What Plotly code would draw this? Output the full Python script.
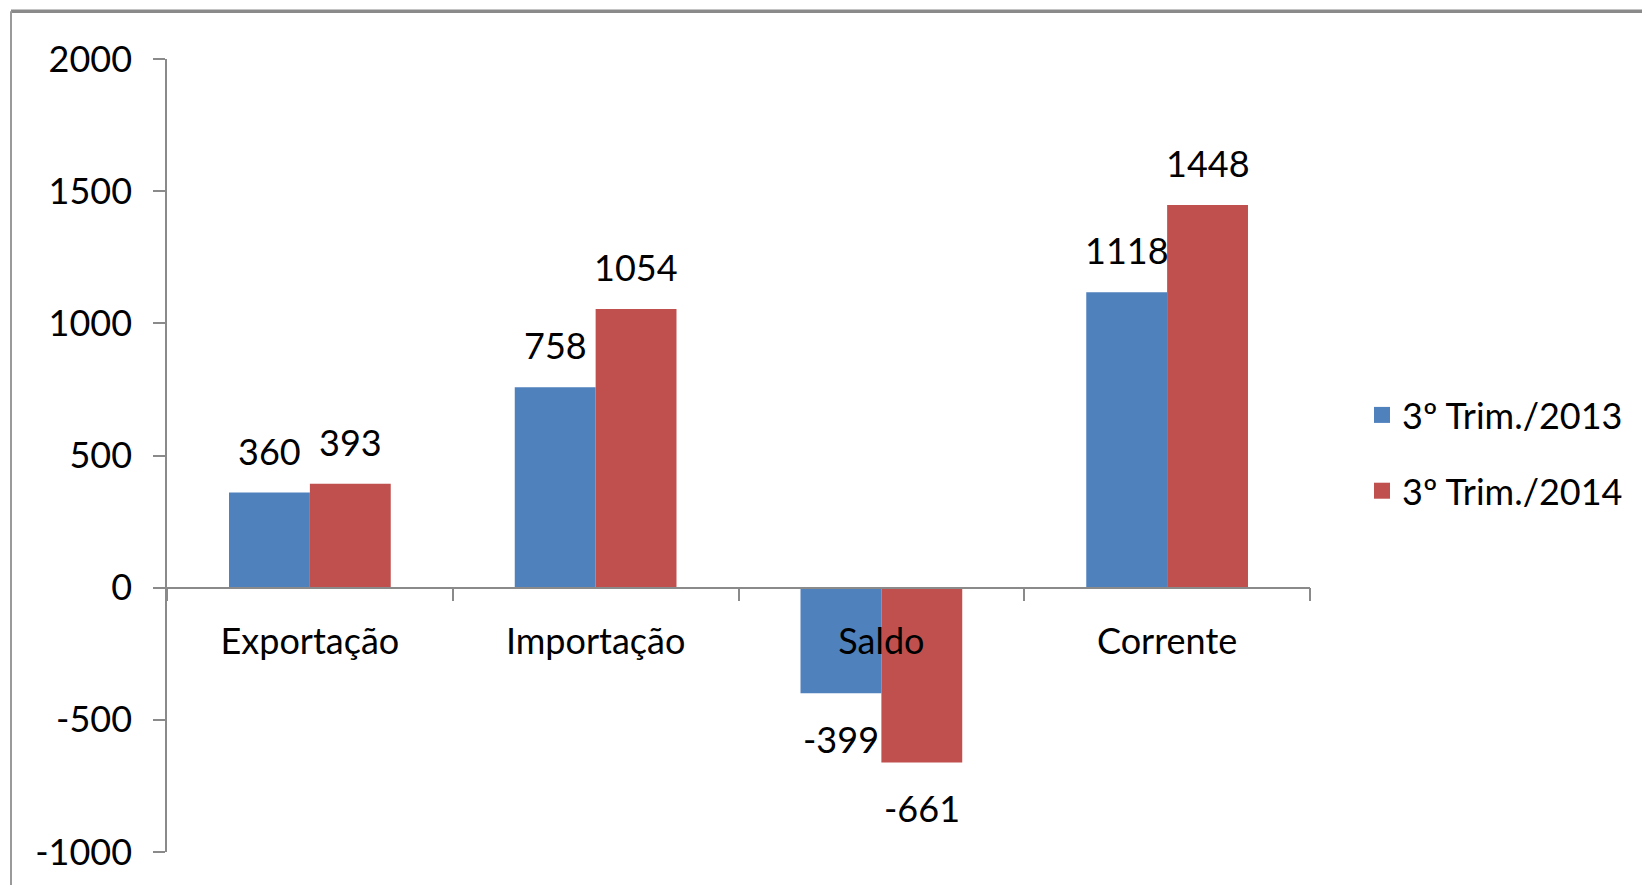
import plotly.graph_objects as go

categories = ["Exportação", "Importação", "Saldo", "Corrente"]
series_names = ["3º Trim./2013", "3º Trim./2014"]
values_2013 = [360, 758, -399, 1118]
values_2014 = [393, 1054, -661, 1448]
y_ticks = [-1000, -500, 0, 500, 1000, 1500, 2000]
y_tick_labels = ["-1000", "-500", "0", "500", "1000", "1500", "2000"]

colors = ["#4F81BD", "#C0504D"]
FONT = "Lato"
FS = 36

# page offset from default body margin
OFF = 8
W, H = 1650 - 2 * OFF, 893 - 2 * OFF
PLOT_W, PLOT_H = 1143, 797
ML, MT = 167 - OFF, 59 - OFF
MR = W - ML - PLOT_W
MB = H - MT - PLOT_H
Y0, Y1 = -1000, 2000
BARGAP = 0.434

fig = go.Figure()
for name, vals, col in zip(series_names, [values_2013, values_2014], colors):
    fig.add_trace(go.Bar(x=categories, y=vals, name=name, marker=dict(color=col, line=dict(width=0)),
                         showlegend=False, legendgroup=name, cliponaxis=False))
    fig.add_trace(go.Scatter(x=[None], y=[None], mode="markers", name=name, legendgroup=name,
                             marker=dict(symbol="square", size=22, color=col)))

bar_w = PLOT_W / len(categories) * (1 - BARGAP) / 2
annotations = []
for i, vals in enumerate([values_2013, values_2014]):
    shift = (-0.5 if i == 0 else 0.5) * bar_w
    for c, v in zip(categories, vals):
        annotations.append(dict(x=c, y=v, xref="x", yref="y", text=str(v), showarrow=False,
                                xshift=shift, yshift=42 if v >= 0 else -46, yanchor="middle",
                                font=dict(family=FONT, size=FS, color="#000000")))

def px_to_paper_x(px):
    return (px - OFF - ML) / PLOT_W
def px_to_paper_y(py):
    return (MT + PLOT_H - (py - OFF)) / PLOT_H

shapes = [
    dict(type="line", xref="paper", yref="paper", x0=px_to_paper_x(11), x1=px_to_paper_x(1700),
         y0=px_to_paper_y(11), y1=px_to_paper_y(11), line=dict(color="#8a8a8a", width=3.5)),
    dict(type="line", xref="paper", yref="paper", x0=px_to_paper_x(11), x1=px_to_paper_x(11),
         y0=px_to_paper_y(11), y1=px_to_paper_y(950), line=dict(color="#9a9a9a", width=2)),
]

fig.update_layout(
    width=W, height=H,
    margin=dict(l=ML, r=MR, t=MT, b=MB),
    paper_bgcolor="white", plot_bgcolor="white",
    barmode="group", bargap=BARGAP, bargroupgap=0,
    font=dict(family=FONT, size=FS, color="#000000"),
    xaxis=dict(anchor="free", position=(0 - Y0) / (Y1 - Y0), showline=True, linecolor="#8a8a8a",
               linewidth=1.5, ticks="outside", tickson="boundaries", ticklen=13, tickcolor="#8a8a8a",
               tickwidth=1.5, showgrid=False, zeroline=False, ticklabelstandoff=22,
               tickfont=dict(family=FONT, size=FS, color="#000000")),
    yaxis=dict(range=[Y0, Y1], tickvals=y_ticks, ticktext=y_tick_labels, showline=True,
               linecolor="#8a8a8a", linewidth=1.5,
               ticks="outside", ticklen=12, tickcolor="#8a8a8a", tickwidth=1.5, showgrid=False,
               zeroline=False, ticklabelstandoff=14,
               tickfont=dict(family=FONT, size=FS, color="#000000")),
    legend=dict(x=px_to_paper_x(1362), y=px_to_paper_y(455), xanchor="left", yanchor="middle",
                font=dict(family=FONT, size=FS, color="#000000"), tracegroupgap=26,
                bgcolor="rgba(0,0,0,0)", itemsizing="trace"),
    annotations=annotations,
    shapes=shapes,
)

fig.write_html("out.html")
